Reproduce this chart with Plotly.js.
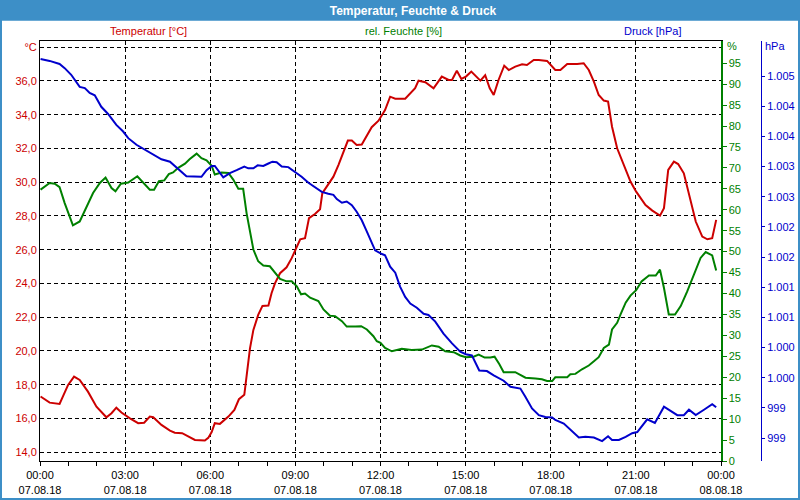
<!DOCTYPE html>
<html>
<head>
<meta charset="utf-8">
<script src="https://cdn.plot.ly/plotly-3.0.1.min.js"></script>
<style>html,body{margin:0;padding:0;background:#fff;}#chart{width:800px;height:500px;}</style>
</head>
<body>
<div id="chart"></div>
<script>
// Time in hours since 07.08.18 00:00
const tempHours = [0.02,0.34,0.69,0.99,1.2,1.4,1.69,1.99,2.34,2.52,2.69,2.87,3.17,3.46,3.67,3.87,3.99,4.28,4.58,4.75,5.01,5.28,5.46,5.81,5.93,6.05,6.16,6.34,6.64,6.85,7.01,7.2,7.32,7.4,7.52,7.69,7.84,8.05,8.16,8.28,8.46,8.69,8.87,9.01,9.17,9.34,9.48,9.69,9.87,9.95,10.1,10.34,10.52,10.69,10.85,10.99,11.16,11.34,11.48,11.69,11.93,12.16,12.34,12.52,12.87,13.1,13.22,13.34,13.58,13.87,14.16,14.4,14.52,14.69,14.85,15.01,15.2,15.52,15.69,15.85,15.99,16.16,16.36,16.52,16.75,16.99,17.16,17.4,17.58,17.87,18.16,18.34,18.58,18.93,19.16,19.34,19.52,19.69,19.87,20.02,20.16,20.34,20.58,20.81,21.01,21.34,21.58,21.85,21.99,22.14,22.34,22.49,22.69,22.87,23.11,23.34,23.52,23.69,23.83];
const tempValues = [17.30,16.94,16.86,17.99,18.48,18.28,17.59,16.70,16.07,16.31,16.64,16.35,16.01,15.72,15.75,16.11,16.07,15.62,15.28,15.16,15.13,14.89,14.73,14.69,14.85,15.2,15.72,15.68,16.11,16.51,17.14,17.40,19.27,20.16,21.25,22.14,22.67,22.69,23.42,24.01,24.61,24.96,25.50,25.99,26.62,26.68,27.87,28.12,28.40,29.35,29.74,30.33,31.03,31.72,32.47,32.47,32.21,32.23,32.61,33.26,33.65,34.28,35.07,34.95,34.95,35.37,35.57,36.02,35.93,35.57,36.26,36.06,36.06,36.61,36.12,36.26,36.56,36.02,36.34,35.57,35.17,36.06,36.91,36.65,36.85,36.99,36.95,37.25,37.25,37.19,36.65,36.65,37.01,37.01,37.05,36.65,35.96,35.17,34.84,34.78,33.29,32.01,31.03,30.04,29.44,28.65,28.32,28.02,28.46,30.73,31.22,31.08,30.53,29.35,27.67,26.78,26.62,26.68,27.77];

const humHours = [0.02,0.34,0.52,0.69,0.87,1.05,1.16,1.4,1.63,1.87,2.11,2.31,2.52,2.66,2.85,3.11,3.43,3.64,3.87,4.02,4.19,4.38,4.54,4.69,4.87,5.11,5.28,5.52,5.69,5.87,6.05,6.16,6.4,6.64,6.81,6.99,7.16,7.28,7.4,7.52,7.69,7.87,8.1,8.28,8.46,8.69,8.87,9.05,9.2,9.34,9.52,9.81,9.99,10.22,10.4,10.64,10.81,11.11,11.32,11.52,11.75,11.87,12.0,12.16,12.4,12.75,13.1,13.46,13.81,14.05,14.28,14.58,14.81,15.01,15.28,15.46,15.67,15.87,16.02,16.19,16.34,16.75,17.11,17.46,17.69,17.87,18.05,18.16,18.58,18.69,18.87,19.1,19.34,19.52,19.69,19.87,20.05,20.16,20.34,20.46,20.64,20.81,21.01,21.2,21.46,21.7,21.85,21.99,22.16,22.38,22.58,22.81,23.05,23.28,23.46,23.69,23.83];
const humValues = [64.8,66.4,66.2,65.4,61.6,58.0,56.3,57.2,60.4,64.0,66.4,67.7,65.2,64.4,66.2,66.5,68.0,66.5,64.8,64.8,66.8,67.0,68.5,68.9,70.0,71.0,72.1,73.4,72.3,71.8,70.5,68.4,68.9,68.8,67.2,65.0,65.0,59.2,54.5,50.5,47.7,46.7,46.5,44.9,43.5,42.9,42.9,41.7,39.8,40.0,39.0,38.2,36.2,34.7,34.6,33.4,32.1,32.1,32.2,31.4,29.8,28.6,28.2,27.0,26.2,26.8,26.5,26.6,27.6,27.3,26.2,26.0,25.2,24.8,24.9,25.4,24.7,24.7,24.9,23.1,21.2,21.2,19.9,19.7,19.5,19.1,19.1,20.0,20.0,20.7,20.8,21.9,22.8,23.8,24.8,27.0,27.8,31.4,33.0,35.0,37.8,39.5,40.8,42.9,44.3,44.3,45.7,41.3,35.0,35.0,37.0,40.5,44.5,48.5,49.9,49.1,45.5];

const presHours = [0.02,0.34,0.69,0.87,1.1,1.28,1.4,1.58,1.75,1.93,2.16,2.4,2.69,2.93,3.11,3.4,3.69,3.99,4.28,4.58,4.75,4.96,5.16,5.69,5.87,6.05,6.16,6.46,6.69,6.93,7.2,7.34,7.52,7.67,7.87,8.05,8.19,8.34,8.52,8.75,8.99,9.22,9.46,9.69,9.93,10.16,10.34,10.46,10.64,10.81,10.99,11.16,11.34,11.52,11.69,11.81,12.05,12.16,12.34,12.52,12.69,12.87,13.05,13.28,13.52,13.69,13.93,14.22,14.52,14.81,15.01,15.22,15.48,15.75,15.99,16.34,16.58,16.93,17.11,17.34,17.58,17.81,18.05,18.16,18.46,18.75,18.99,19.22,19.52,19.81,20.02,20.16,20.4,20.64,20.87,21.05,21.4,21.67,21.99,22.46,22.69,22.87,23.11,23.4,23.69,23.83];
const presValues = [1005.03,1005.00,1004.95,1004.88,1004.77,1004.64,1004.57,1004.55,1004.47,1004.43,1004.24,1004.12,1003.94,1003.83,1003.72,1003.61,1003.53,1003.44,1003.37,1003.33,1003.26,1003.18,1003.09,1003.08,1003.19,1003.26,1003.26,1003.07,1003.14,1003.19,1003.25,1003.22,1003.22,1003.27,1003.26,1003.30,1003.33,1003.32,1003.25,1003.24,1003.16,1003.08,1002.98,1002.91,1002.83,1002.80,1002.78,1002.71,1002.65,1002.67,1002.61,1002.50,1002.36,1002.17,1002.00,1001.86,1001.80,1001.78,1001.59,1001.49,1001.26,1001.09,1000.98,1000.91,1000.81,1000.79,1000.68,1000.48,1000.32,1000.18,1000.14,1000.12,999.87,999.86,999.79,999.70,999.60,999.57,999.43,999.24,999.13,999.10,999.09,999.05,998.99,998.87,998.76,998.77,998.76,998.70,998.78,998.72,998.72,998.77,998.83,998.85,999.06,999.00,999.27,999.13,999.13,999.22,999.13,999.22,999.31,999.26];

const xTickVals = [0,3,6,9,12,15,18,21,24];
const xTickText = ["00:00<br>07.08.18","03:00<br>07.08.18","06:00<br>07.08.18","09:00<br>07.08.18","12:00<br>07.08.18","15:00<br>07.08.18","18:00<br>07.08.18","21:00<br>07.08.18","00:00<br>08.08.18"];
const tempTickVals = [14,16,18,20,22,24,26,28,30,32,34,36,38];
const tempTickText = ["14,0","16,0","18,0","20,0","22,0","24,0","26,0","28,0","30,0","32,0","34,0","36,0","°C"];
const humTickVals = [0,5,10,15,20,25,30,35,40,45,50,55,60,65,70,75,80,85,90,95];
const humTickText = humTickVals.map(String);
const presTickVals = [998.75,999.25,999.75,1000.25,1000.75,1001.25,1001.75,1002.25,1002.75,1003.25,1003.75,1004.25,1004.75];
const presTickText = ["999","999","1.000","1.000","1.001","1.001","1.002","1.002","1.003","1.003","1.004","1.004","1.005"];

const RED = "rgb(204,0,0)", GREEN = "rgb(0,128,0)", BLUE = "rgb(0,0,204)";
const FONT = "Liberation Sans, Arial, sans-serif";
const BAR = "rgb(61,143,199)";

// pixel helpers for paper coords (plot area: x 40..780 (740 wide), y 41..461)
const px = x => (x - 40) / 740;
const py = y => (461 - y) / 420;

const traces = [
  {x: tempHours, y: tempValues, type: "scatter", mode: "lines", line: {color: RED, width: 2}, yaxis: "y", name: "Temperatur"},
  {x: humHours, y: humValues, type: "scatter", mode: "lines", line: {color: GREEN, width: 2}, yaxis: "y2", name: "rel. Feuchte"},
  {x: presHours, y: presValues, type: "scatter", mode: "lines", line: {color: BLUE, width: 2}, yaxis: "y3", name: "Druck"}
];

const layout = {
  width: 800, height: 500,
  margin: {l: 40, r: 20, t: 41, b: 39, pad: 0},
  paper_bgcolor: "#fff", plot_bgcolor: "#fff",
  showlegend: false,
  font: {family: FONT, size: 11, color: "#000"},
  title: {text: "Temperatur, Feuchte & Druck", font: {family: FONT, size: 12, color: "#fff", weight: "bold"},
          x: 413/800, xref: "container", xanchor: "center", y: 1 - 10.5/500, yref: "container", yanchor: "middle"},
  xaxis: {
    domain: [0, 681/740], range: [0, 24], fixedrange: true,
    tickmode: "array", tickvals: xTickVals, ticktext: xTickText,
    ticks: "outside", ticklen: 4, tickcolor: "#000", tickfont: {size: 11, color: "#000"},
    showline: true, linecolor: "#000", linewidth: 1, mirror: true,
    showgrid: true, gridcolor: "#000", gridwidth: 1, griddash: "4px,3px",
    zeroline: false,
    minor: {tickmode: "linear", tick0: 0, dtick: 1, ticks: "outside", ticklen: 4, tickcolor: "#000", showgrid: false}
  },
  yaxis: {
    range: [13.48, 38.37], fixedrange: true,
    tickmode: "array", tickvals: tempTickVals, ticktext: tempTickText,
    ticks: "", tickfont: {size: 11, color: RED},
    showline: true, linecolor: "#000", linewidth: 1,
    showgrid: true, gridcolor: "#000", gridwidth: 1, griddash: "4px,3px",
    zeroline: false
  },
  yaxis2: {
    overlaying: "y", side: "right", anchor: "x", range: [0, 100.3], fixedrange: true,
    tickmode: "array", tickvals: humTickVals, ticktext: humTickText,
    ticks: "outside", ticklen: 4, tickcolor: GREEN, tickfont: {size: 11, color: GREEN},
    showline: true, linecolor: GREEN, linewidth: 1.5,
    showgrid: false, zeroline: false
  },
  yaxis3: {
    overlaying: "y", side: "right", anchor: "free", position: px(761), range: [998.37, 1005.33], fixedrange: true,
    tickmode: "array", tickvals: presTickVals, ticktext: presTickText,
    ticks: "outside", ticklen: 3, tickcolor: BLUE, tickfont: {size: 11, color: BLUE},
    showline: true, linecolor: BLUE, linewidth: 1,
    showgrid: false, zeroline: false
  },
  shapes: [
    {type: "rect", xref: "paper", yref: "paper", x0: px(0), x1: px(800), y0: py(20.7), y1: py(0), fillcolor: BAR, line: {width: 0}, layer: "below"},
    {type: "rect", xref: "paper", yref: "paper", x0: px(0), x1: px(800), y0: py(500), y1: py(0), fillcolor: "rgba(0,0,0,0)", line: {color: BAR, width: 4}}
  ],
  annotations: [
    {text: "Temperatur [°C]", xref: "paper", yref: "paper", x: px(148), y: py(31), xanchor: "center", yanchor: "middle", showarrow: false, font: {size: 11, color: RED}},
    {text: "rel. Feuchte [%]", xref: "paper", yref: "paper", x: px(403), y: py(31), xanchor: "center", yanchor: "middle", showarrow: false, font: {size: 11, color: GREEN}},
    {text: "Druck [hPa]", xref: "paper", yref: "paper", x: px(652), y: py(31), xanchor: "center", yanchor: "middle", showarrow: false, font: {size: 11, color: BLUE}},
    {text: "%", xref: "paper", yref: "paper", x: px(725), y: py(46.5), xanchor: "left", yanchor: "middle", showarrow: false, font: {size: 11, color: GREEN}},
    {text: "hPa", xref: "paper", yref: "paper", x: px(763), y: py(46.5), xanchor: "left", yanchor: "middle", showarrow: false, font: {size: 11, color: BLUE}}
  ]
};

Plotly.newPlot("chart", traces, layout, {staticPlot: true, displayModeBar: false});
</script>
</body>
</html>
